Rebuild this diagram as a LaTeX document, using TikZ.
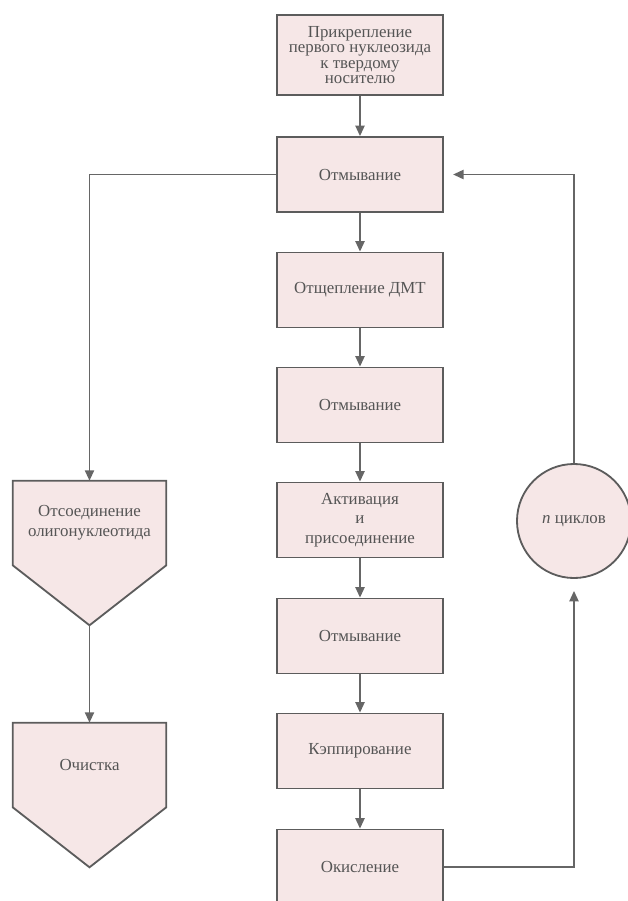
\documentclass[tikz,border=0pt]{standalone}
\usepackage{fontspec}
\setmainfont{Liberation Serif}
\usetikzlibrary{arrows.meta,positioning,calc,backgrounds}
\definecolor{ink}{HTML}{555555}
\definecolor{frame}{HTML}{5C5C5C}
\definecolor{wire}{HTML}{666666}
\definecolor{blush}{HTML}{F6E7E7}
\tikzset{every node/.style={font=\fontsize{12}{14}\selectfont,text=ink},
 block/.style={draw=frame,fill=blush,line width=1.3pt,minimum width=4.15cm,minimum height=1.875cm,align=center,inner sep=2pt},
 spike/.style={minimum width=3.825cm,minimum height=2.1cm,align=center,inner sep=2pt},
 spikeline/.style={draw=frame,fill=blush,line width=1.3pt,line join=miter},
 loopnode/.style={circle,draw=frame,fill=blush,line width=1.3pt,minimum size=2.85cm,inner sep=0pt},
 link/.style={-{Triangle[length=2.6mm,width=2.3mm]},draw=wire,line width=1.1pt}}

\begin{document}
\begin{tikzpicture}[x=.025cm,y=-.025cm]

\path[use as bounding box] (0,0) rectangle (628,901);
\node[block,minimum height=2cm,font=\fontsize{12}{11}\selectfont] (attach) at (360,55) {Прикрепление\\первого нуклеозида\\к твердому\\носителю};
\node[block] (wash1) at (360,174.5) {Отмывание};
\node[block] (dmt) at (360,290) {Отщепление ДМТ};
\node[block] (wash2) at (360,405) {Отмывание};
\node[block] (activ) at (360,520) {Активация\\и\\присоединение};
\node[block] (wash3) at (360,636) {Отмывание};
\node[block] (cap) at (360,751) {Кэппирование};
\node[block] (oxid) at (360,867) {Окисление};
\node[loopnode] (cycles) at (574,521) {\textit{n} циклов};
\node[spike] (cleave) at (89.5,523) {Отсоединение\\олигонуклеотида};
\node[spike] (purify) at (89.5,765) {Очистка};
\coordinate (cleavetip) at ($(cleave.south)+(0,60)$);
\coordinate (purifytip) at ($(purify.south)+(0,60)$);
\begin{scope}[on background layer]
\filldraw[spikeline] (cleave.north west)--(cleave.north east)--(cleave.south east)--(cleavetip)--(cleave.south west)--cycle;
\filldraw[spikeline] (purify.north west)--(purify.north east)--(purify.south east)--(purifytip)--(purify.south west)--cycle;
\end{scope}
\foreach \a/\b in {attach/wash1,wash1/dmt,dmt/wash2,wash2/activ,activ/wash3,wash3/cap,cap/oxid}{\draw[link] (\a)--(\b);}
\draw[link] (wash1.west)-|(cleave.north);
\draw[link] (cleavetip)--(purify.north);
\draw[link,shorten >=3mm] (oxid.east)-|(cycles.south);
\draw[link,shorten >=2.3mm] (cycles.north)|-(wash1.east);

\end{tikzpicture}
\end{document}
